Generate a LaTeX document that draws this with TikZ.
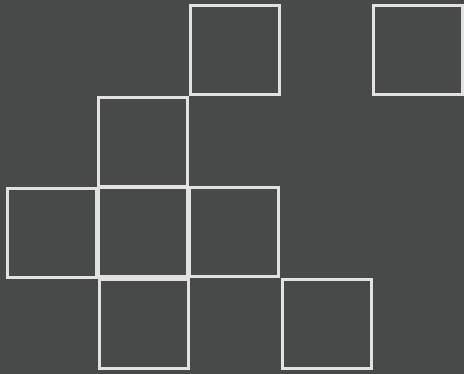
\documentclass[tikz,border=0pt]{standalone}
\definecolor{bgc}{HTML}{484A49}
\definecolor{edgec}{HTML}{E2E2E2}
\begin{document}
\begin{tikzpicture}[x=1pt,y=-1pt,
  sq/.style={draw=edgec,line width=3pt,minimum width=89pt,minimum height=89pt,inner sep=0pt,outer sep=0pt}]
\fill[bgc] (0,0) rectangle (464,374);
\useasboundingbox (0,0) rectangle (464,374);
\node[sq] (a) at (235,50.3) {};
\node[sq] (b) at (417.5,50.5) {};
\node[sq] (c) at (143.3,141.8) {};
\node[sq] (d) at (52,233) {};
\node[sq] (e) at (142.5,232.5) {};
\node[sq] (f) at (234,232.5) {};
\node[sq] (g) at (144,324) {};
\node[sq] (h) at (326.5,324.5) {};
\end{tikzpicture}
\end{document}
